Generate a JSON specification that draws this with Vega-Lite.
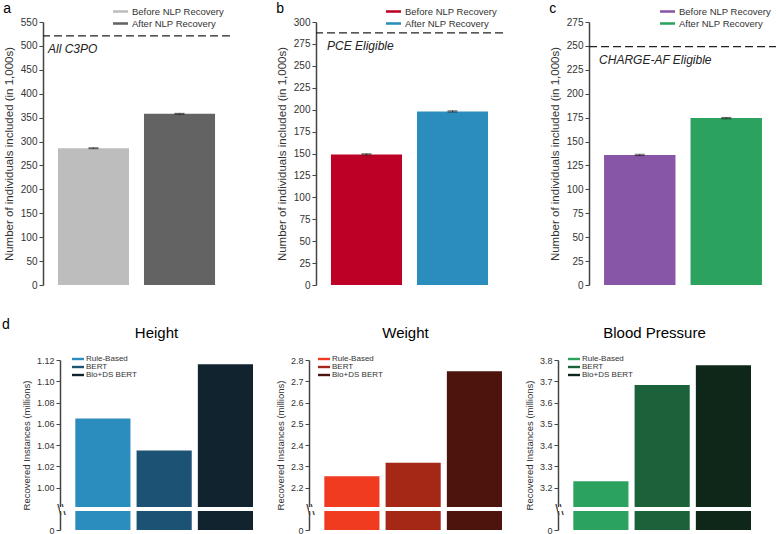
{
  "$schema": "https://vega.github.io/schema/vega-lite/v6.json",
  "padding": {"left": 2, "top": 2, "right": 0, "bottom": 0},
  "config": {
    "view": {"stroke": null},
    "font": "Liberation Sans",
    "axis": {"grid": false, "labelColor": "#333", "titleColor": "#333", "titleFontWeight": "normal", "domainColor": "#444", "domainWidth": 1.5, "tickColor": "#444", "tickSize": 4},
    "legend": {"labelColor": "#333", "labelLimit": 300}
  },
  "resolve": {"scale": {"color": "independent", "x": "independent", "y": "independent"}, "legend": {"color": "independent"}},
  "spacing": 28,
  "vconcat": [
    {
      "spacing": 45,
      "resolve": {"scale": {"color": "independent", "x": "independent", "y": "independent"}, "legend": {"color": "independent"}},
      "hconcat": [
        {
          "width": 187, "height": 263,
          "title": {"text": "a", "anchor": "start", "frame": "bounds", "fontSize": 14, "fontWeight": "normal", "offset": -12},
          "data": {"values": [
            {"group": "Before NLP Recovery", "count": 286, "lo": 285, "hi": 287},
            {"group": "After NLP Recovery", "count": 358, "lo": 357, "hi": 359}
          ]},
          "layer": [
            {
              "mark": {"type": "bar"},
              "encoding": {
                "x": {"field": "group", "type": "nominal", "sort": null, "axis": null, "scale": {"paddingInner": 0.174, "paddingOuter": 0.174}},
                "y": {"field": "count", "type": "quantitative", "scale": {"domain": [0, 550], "nice": false},
                  "axis": {"values": [0, 50, 100, 150, 200, 250, 300, 350, 400, 450, 500, 550], "title": "Number of individuals included (in 1,000s)", "titleFontSize": 11.5, "labelFontSize": 10, "titlePadding": 6}},
                "color": {"field": "group", "type": "nominal", "sort": null,
                  "scale": {"domain": ["Before NLP Recovery", "After NLP Recovery"], "range": ["#bdbdbd", "#636363"]},
                  "legend": {"orient": "none", "legendX": 70, "legendY": -18, "title": null, "symbolType": "M-1,-0.17L1,-0.17L1,0.17L-1,0.17Z", "symbolSize": 225, "symbolStrokeWidth": 0, "labelFontSize": 9.5, "rowPadding": -10}}
              }
            },
            {
              "mark": {"type": "errorbar", "ticks": {"size": 10, "color": "#222"}, "rule": {"color": "#222"}},
              "encoding": {
                "x": {"field": "group", "type": "nominal", "sort": null},
                "y": {"field": "lo", "type": "quantitative",
                  "axis": {"values": [0, 50, 100, 150, 200, 250, 300, 350, 400, 450, 500, 550], "title": "Number of individuals included (in 1,000s)", "titleFontSize": 11.5, "labelFontSize": 10, "titlePadding": 6}},
                "y2": {"field": "hi"}
              }
            },
            {
              "data": {"values": [{"label": "All C3PO", "total": 521}]},
              "layer": [
                {"mark": {"type": "rule", "strokeDash": [8, 4], "color": "#222", "strokeWidth": 1.3}, "encoding": {"y": {"field": "total", "type": "quantitative",
                  "axis": {"values": [0, 50, 100, 150, 200, 250, 300, 350, 400, 450, 500, 550], "title": "Number of individuals included (in 1,000s)", "titleFontSize": 11.5, "labelFontSize": 10, "titlePadding": 6}}}},
                {"mark": {"type": "text", "fontStyle": "italic", "align": "left", "baseline": "middle", "fontSize": 12, "dy": 13, "dx": -10, "color": "#222"},
                  "encoding": {"x": {"datum": "Before NLP Recovery", "type": "nominal", "bandPosition": 0}, "y": {"field": "total", "type": "quantitative",
                  "axis": {"values": [0, 50, 100, 150, 200, 250, 300, 350, 400, 450, 500, 550], "title": "Number of individuals included (in 1,000s)", "titleFontSize": 11.5, "labelFontSize": 10, "titlePadding": 6}}, "text": {"field": "label"}}}
              ]
            }
          ]
        },
        {
          "width": 187, "height": 263,
          "title": {"text": "b", "anchor": "start", "frame": "bounds", "fontSize": 14, "fontWeight": "normal", "offset": -12},
          "data": {"values": [
            {"group": "Before NLP Recovery", "count": 149, "lo": 148.3, "hi": 149.7},
            {"group": "After NLP Recovery", "count": 198, "lo": 197.3, "hi": 198.7}
          ]},
          "layer": [
            {
              "mark": {"type": "bar"},
              "encoding": {
                "x": {"field": "group", "type": "nominal", "sort": null, "axis": null, "scale": {"paddingInner": 0.174, "paddingOuter": 0.174}},
                "y": {"field": "count", "type": "quantitative", "scale": {"domain": [0, 300], "nice": false},
                  "axis": {"values": [0, 25, 50, 75, 100, 125, 150, 175, 200, 225, 250, 275, 300], "title": "Number of individuals included (in 1,000s)", "titleFontSize": 11.5, "labelFontSize": 10, "titlePadding": 6}},
                "color": {"field": "group", "type": "nominal", "sort": null,
                  "scale": {"domain": ["Before NLP Recovery", "After NLP Recovery"], "range": ["#bd0026", "#2b8cbe"]},
                  "legend": {"orient": "none", "legendX": 70, "legendY": -18, "title": null, "symbolType": "M-1,-0.17L1,-0.17L1,0.17L-1,0.17Z", "symbolSize": 225, "symbolStrokeWidth": 0, "labelFontSize": 9.5, "rowPadding": -10}}
              }
            },
            {
              "mark": {"type": "errorbar", "ticks": {"size": 10, "color": "#222"}, "rule": {"color": "#222"}},
              "encoding": {
                "x": {"field": "group", "type": "nominal", "sort": null},
                "y": {"field": "lo", "type": "quantitative",
                  "axis": {"values": [0, 25, 50, 75, 100, 125, 150, 175, 200, 225, 250, 275, 300], "title": "Number of individuals included (in 1,000s)", "titleFontSize": 11.5, "labelFontSize": 10, "titlePadding": 6}},
                "y2": {"field": "hi"}
              }
            },
            {
              "data": {"values": [{"label": "PCE Eligible", "total": 287.5}]},
              "layer": [
                {"mark": {"type": "rule", "strokeDash": [8, 4], "color": "#222", "strokeWidth": 1.3}, "encoding": {"y": {"field": "total", "type": "quantitative",
                  "axis": {"values": [0, 25, 50, 75, 100, 125, 150, 175, 200, 225, 250, 275, 300], "title": "Number of individuals included (in 1,000s)", "titleFontSize": 11.5, "labelFontSize": 10, "titlePadding": 6}}}},
                {"mark": {"type": "text", "fontStyle": "italic", "align": "left", "baseline": "middle", "fontSize": 12, "dy": 13, "dx": -4, "color": "#222"},
                  "encoding": {"x": {"datum": "Before NLP Recovery", "type": "nominal", "bandPosition": 0}, "y": {"field": "total", "type": "quantitative",
                  "axis": {"values": [0, 25, 50, 75, 100, 125, 150, 175, 200, 225, 250, 275, 300], "title": "Number of individuals included (in 1,000s)", "titleFontSize": 11.5, "labelFontSize": 10, "titlePadding": 6}}, "text": {"field": "label"}}}
              ]
            }
          ]
        },
        {
          "width": 188, "height": 263,
          "title": {"text": "c", "anchor": "start", "frame": "bounds", "fontSize": 14, "fontWeight": "normal", "offset": -12},
          "data": {"values": [
            {"group": "Before NLP Recovery", "count": 136, "lo": 135.3, "hi": 136.7},
            {"group": "After NLP Recovery", "count": 174.5, "lo": 173.8, "hi": 175.2}
          ]},
          "layer": [
            {
              "mark": {"type": "bar"},
              "encoding": {
                "x": {"field": "group", "type": "nominal", "sort": null, "axis": null, "scale": {"paddingInner": 0.174, "paddingOuter": 0.174}},
                "y": {"field": "count", "type": "quantitative", "scale": {"domain": [0, 275], "nice": false},
                  "axis": {"values": [0, 25, 50, 75, 100, 125, 150, 175, 200, 225, 250, 275], "title": "Number of individuals included (in 1,000s)", "titleFontSize": 11.5, "labelFontSize": 10, "titlePadding": 6}},
                "color": {"field": "group", "type": "nominal", "sort": null,
                  "scale": {"domain": ["Before NLP Recovery", "After NLP Recovery"], "range": ["#8856a7", "#2ca25f"]},
                  "legend": {"orient": "none", "legendX": 71, "legendY": -18, "title": null, "symbolType": "M-1,-0.17L1,-0.17L1,0.17L-1,0.17Z", "symbolSize": 225, "symbolStrokeWidth": 0, "labelFontSize": 9.5, "rowPadding": -10}}
              }
            },
            {
              "mark": {"type": "errorbar", "ticks": {"size": 10, "color": "#222"}, "rule": {"color": "#222"}},
              "encoding": {
                "x": {"field": "group", "type": "nominal", "sort": null},
                "y": {"field": "lo", "type": "quantitative",
                  "axis": {"values": [0, 25, 50, 75, 100, 125, 150, 175, 200, 225, 250, 275], "title": "Number of individuals included (in 1,000s)", "titleFontSize": 11.5, "labelFontSize": 10, "titlePadding": 6}},
                "y2": {"field": "hi"}
              }
            },
            {
              "data": {"values": [{"label": "CHARGE-AF Eligible", "total": 249.2}]},
              "layer": [
                {"mark": {"type": "rule", "strokeDash": [8, 4], "color": "#222", "strokeWidth": 1.3}, "encoding": {"y": {"field": "total", "type": "quantitative",
                  "axis": {"values": [0, 25, 50, 75, 100, 125, 150, 175, 200, 225, 250, 275], "title": "Number of individuals included (in 1,000s)", "titleFontSize": 11.5, "labelFontSize": 10, "titlePadding": 6}}}},
                {"mark": {"type": "text", "fontStyle": "italic", "align": "left", "baseline": "middle", "fontSize": 12, "dy": 13, "dx": -5, "color": "#222"},
                  "encoding": {"x": {"datum": "Before NLP Recovery", "type": "nominal", "bandPosition": 0}, "y": {"field": "total", "type": "quantitative",
                  "axis": {"values": [0, 25, 50, 75, 100, 125, 150, 175, 200, 225, 250, 275], "title": "Number of individuals included (in 1,000s)", "titleFontSize": 11.5, "labelFontSize": 10, "titlePadding": 6}}, "text": {"field": "label"}}}
              ]
            }
          ]
        }
      ]
    },
    {
      "spacing": -23,
      "resolve": {"scale": {"color": "independent", "x": "independent", "y": "independent"}, "legend": {"color": "independent"}},
      "hconcat": [
        {
          "width": 1, "height": 170,
          "title": {"text": "d", "anchor": "start", "frame": "group", "fontSize": 14, "fontWeight": "normal", "offset": 28, "dx": -41},
          "data": {"values": []},
          "mark": "point"
        },
        {
          "spacing": 20,
          "resolve": {"scale": {"color": "independent", "x": "independent", "y": "independent"}, "legend": {"color": "independent"}},
          "hconcat": [
            {
              "width": 193, "height": 170,
              "title": {"text": "Height", "fontSize": 15, "fontWeight": "normal", "offset": 14},
              "data": {"values": [
                {"method": "Rule-Based", "value": 1.065},
                {"method": "BERT", "value": 1.035},
                {"method": "Bio+DS BERT", "value": 1.116}
              ]},
              "layer": [
                {
                  "mark": {"type": "bar"},
                  "encoding": {
                    "x": {"field": "method", "type": "nominal", "sort": null, "axis": null, "scale": {"paddingInner": 0.1, "paddingOuter": 0.125, "align": 1}},
                    "y": {"field": "value", "type": "quantitative",
                      "scale": {"domain": [0, 0.98, 1.12], "range": [170, 149, 0], "zero": false, "nice": false},
                      "axis": {"values": [0, 0.98, 1.0, 1.02, 1.04, 1.06, 1.08, 1.1, 1.12],
                        "labelExpr": "datum.value == 0 ? '0' : datum.value == 0.98 ? '\\\\\\\\' : format(datum.value, '.2f')",
                        "title": "Recovered Instances (millions)", "titleFontSize": 9.5, "titlePadding": 5,
                        "labelFontSize": {"condition": {"test": "datum.value == 0.98", "value": 15}, "value": 9},
                        "labelPadding": {"condition": {"test": "datum.value == 0.98", "value": -5}, "value": 2},
                        "labelAlign": {"condition": {"test": "datum.value == 0.98", "value": "center"}, "value": "right"},
                        "tickColor": {"condition": {"test": "datum.value == 0.98", "value": "transparent"}, "value": "#444"}}},
                    "color": {"field": "method", "type": "nominal", "sort": null,
                      "scale": {"domain": ["Rule-Based", "BERT", "Bio+DS BERT"], "range": ["#2b8cbe", "#1c5273", "#10232f"]},
                      "legend": {"orient": "none", "legendX": 14, "legendY": -5, "title": null, "symbolType": "M-2,-0.4L2,-0.4L2,0.4L-2,0.4Z", "symbolSize": 36, "symbolStrokeWidth": 0, "labelFontSize": 8, "rowPadding": -1.5}}
                  }
                },
                {"mark": {"type": "rule", "color": "white", "strokeWidth": 4}, "encoding": {"y": {"datum": 0.98,
                      "axis": {"values": [0, 0.98, 1.0, 1.02, 1.04, 1.06, 1.08, 1.1, 1.12],
                        "labelExpr": "datum.value == 0 ? '0' : datum.value == 0.98 ? '\\\\\\\\' : format(datum.value, '.2f')",
                        "title": "Recovered Instances (millions)", "titleFontSize": 9.5, "titlePadding": 5,
                        "labelFontSize": {"condition": {"test": "datum.value == 0.98", "value": 15}, "value": 9},
                        "labelPadding": {"condition": {"test": "datum.value == 0.98", "value": -5}, "value": 2},
                        "labelAlign": {"condition": {"test": "datum.value == 0.98", "value": "center"}, "value": "right"},
                        "tickColor": {"condition": {"test": "datum.value == 0.98", "value": "transparent"}, "value": "#444"}}}}}
              ]
            },
            {
              "width": 193, "height": 170,
              "title": {"text": "Weight", "fontSize": 15, "fontWeight": "normal", "offset": 14},
              "data": {"values": [
                {"method": "Rule-Based", "value": 2.254},
                {"method": "BERT", "value": 2.317},
                {"method": "Bio+DS BERT", "value": 2.747}
              ]},
              "layer": [
                {
                  "mark": {"type": "bar"},
                  "encoding": {
                    "x": {"field": "method", "type": "nominal", "sort": null, "axis": null, "scale": {"paddingInner": 0.1, "paddingOuter": 0.125, "align": 1}},
                    "y": {"field": "value", "type": "quantitative",
                      "scale": {"domain": [0, 2.1, 2.8], "range": [170, 149, 0], "zero": false, "nice": false},
                      "axis": {"values": [0, 2.1, 2.2, 2.3, 2.4, 2.5, 2.6, 2.7, 2.8],
                        "labelExpr": "datum.value == 0 ? '0' : datum.value == 2.1 ? '\\\\\\\\' : format(datum.value, '.1f')",
                        "title": "Recovered Instances (millions)", "titleFontSize": 9.5, "titlePadding": 5,
                        "labelFontSize": {"condition": {"test": "datum.value == 2.1", "value": 15}, "value": 9},
                        "labelPadding": {"condition": {"test": "datum.value == 2.1", "value": -5}, "value": 2},
                        "labelAlign": {"condition": {"test": "datum.value == 2.1", "value": "center"}, "value": "right"},
                        "tickColor": {"condition": {"test": "datum.value == 2.1", "value": "transparent"}, "value": "#444"}}},
                    "color": {"field": "method", "type": "nominal", "sort": null,
                      "scale": {"domain": ["Rule-Based", "BERT", "Bio+DS BERT"], "range": ["#f03b20", "#a52716", "#4d140d"]},
                      "legend": {"orient": "none", "legendX": 11, "legendY": -5, "title": null, "symbolType": "M-2,-0.4L2,-0.4L2,0.4L-2,0.4Z", "symbolSize": 36, "symbolStrokeWidth": 0, "labelFontSize": 8, "rowPadding": -1.5}}
                  }
                },
                {"mark": {"type": "rule", "color": "white", "strokeWidth": 4}, "encoding": {"y": {"datum": 2.1,
                      "axis": {"values": [0, 2.1, 2.2, 2.3, 2.4, 2.5, 2.6, 2.7, 2.8],
                        "labelExpr": "datum.value == 0 ? '0' : datum.value == 2.1 ? '\\\\\\\\' : format(datum.value, '.1f')",
                        "title": "Recovered Instances (millions)", "titleFontSize": 9.5, "titlePadding": 5,
                        "labelFontSize": {"condition": {"test": "datum.value == 2.1", "value": 15}, "value": 9},
                        "labelPadding": {"condition": {"test": "datum.value == 2.1", "value": -5}, "value": 2},
                        "labelAlign": {"condition": {"test": "datum.value == 2.1", "value": "center"}, "value": "right"},
                        "tickColor": {"condition": {"test": "datum.value == 2.1", "value": "transparent"}, "value": "#444"}}}}}
              ]
            },
            {
              "width": 193, "height": 170,
              "title": {"text": "Blood Pressure", "fontSize": 15, "fontWeight": "normal", "offset": 14},
              "data": {"values": [
                {"method": "Rule-Based", "value": 3.23},
                {"method": "BERT", "value": 3.683},
                {"method": "Bio+DS BERT", "value": 3.775}
              ]},
              "layer": [
                {
                  "mark": {"type": "bar"},
                  "encoding": {
                    "x": {"field": "method", "type": "nominal", "sort": null, "axis": null, "scale": {"paddingInner": 0.1, "paddingOuter": 0.125, "align": 1}},
                    "y": {"field": "value", "type": "quantitative",
                      "scale": {"domain": [0, 3.1, 3.8], "range": [170, 149, 0], "zero": false, "nice": false},
                      "axis": {"values": [0, 3.1, 3.2, 3.3, 3.4, 3.5, 3.6, 3.7, 3.8],
                        "labelExpr": "datum.value == 0 ? '0' : datum.value == 3.1 ? '\\\\\\\\' : format(datum.value, '.1f')",
                        "title": "Recovered Instances (millions)", "titleFontSize": 9.5, "titlePadding": 5,
                        "labelFontSize": {"condition": {"test": "datum.value == 3.1", "value": 15}, "value": 9},
                        "labelPadding": {"condition": {"test": "datum.value == 3.1", "value": -5}, "value": 2},
                        "labelAlign": {"condition": {"test": "datum.value == 3.1", "value": "center"}, "value": "right"},
                        "tickColor": {"condition": {"test": "datum.value == 3.1", "value": "transparent"}, "value": "#444"}}},
                    "color": {"field": "method", "type": "nominal", "sort": null,
                      "scale": {"domain": ["Rule-Based", "BERT", "Bio+DS BERT"], "range": ["#2ca25f", "#1b6139", "#0e2718"]},
                      "legend": {"orient": "none", "legendX": 12, "legendY": -5, "title": null, "symbolType": "M-2,-0.4L2,-0.4L2,0.4L-2,0.4Z", "symbolSize": 36, "symbolStrokeWidth": 0, "labelFontSize": 8, "rowPadding": -1.5}}
                  }
                },
                {"mark": {"type": "rule", "color": "white", "strokeWidth": 4}, "encoding": {"y": {"datum": 3.1,
                      "axis": {"values": [0, 3.1, 3.2, 3.3, 3.4, 3.5, 3.6, 3.7, 3.8],
                        "labelExpr": "datum.value == 0 ? '0' : datum.value == 3.1 ? '\\\\\\\\' : format(datum.value, '.1f')",
                        "title": "Recovered Instances (millions)", "titleFontSize": 9.5, "titlePadding": 5,
                        "labelFontSize": {"condition": {"test": "datum.value == 3.1", "value": 15}, "value": 9},
                        "labelPadding": {"condition": {"test": "datum.value == 3.1", "value": -5}, "value": 2},
                        "labelAlign": {"condition": {"test": "datum.value == 3.1", "value": "center"}, "value": "right"},
                        "tickColor": {"condition": {"test": "datum.value == 3.1", "value": "transparent"}, "value": "#444"}}}}}
              ]
            }
          ]
        }
      ]
    }
  ]
}
